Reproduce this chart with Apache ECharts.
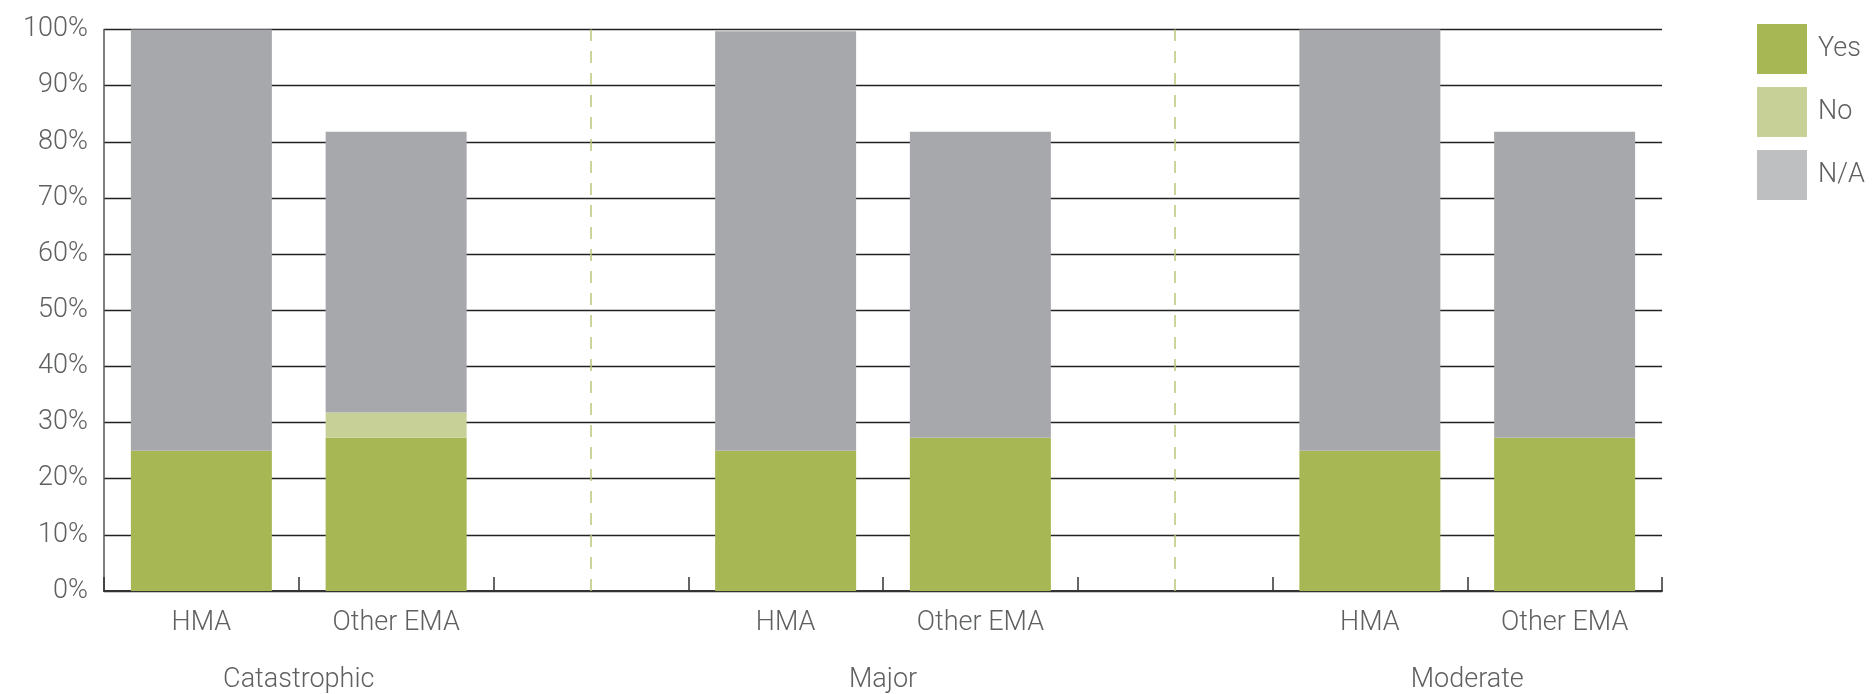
<!DOCTYPE html>
<html>
<head>
<meta charset="utf-8">
<script src="https://cdn.jsdelivr.net/npm/echarts@6/dist/echarts.min.js"></script>
<style>
  html, body { margin: 0; padding: 0; background: #ffffff; }
  #chart { width: 1875px; height: 694px; }
</style>
</head>
<body>
<div id="chart"></div>
<script>
// Slot labels along the x axis; the blank slots separate the three severity groups
const categories = ['HMA', 'Other EMA', '', 'HMA', 'Other EMA', '', 'HMA', 'Other EMA'];
// Share of responses (%) per slot
const yesValues = [25, 27.3, null, 25, 27.3, null, 25, 27.3];
const noValues  = [0, 4.5, null, 0, 0, null, 0, 0];
const naValues  = [75, 50, null, 74.7, 54.5, null, 75, 54.5];
// Group names and the slot boundary each one is centred on
const groupLabels = ['Catastrophic', 'Major', 'Moderate'];
const groupCentres = [1, 4, 7];
// Blank slots that hold the dashed separators
const separatorSlots = [2, 5];
const yTicks = [0, 10, 20, 30, 40, 50, 60, 70, 80, 90, 100];

const textColor = '#5f6062';
const fontFamily = 'Roboto, "Noto Sans", sans-serif';

const chart = echarts.init(document.getElementById('chart'));

chart.setOption({
  animation: false,
  backgroundColor: '#ffffff',
  textStyle: { fontFamily: fontFamily },
  grid: { left: 104, right: 213, top: 29.5, bottom: 102, containLabel: false },
  legend: {
    orient: 'vertical',
    left: 1752,
    top: 19,
    itemWidth: 50,
    itemHeight: 50,
    itemGap: 13,
    icon: 'rect',
    textStyle: { color: textColor, fontSize: 27, fontWeight: 300, fontFamily: fontFamily, padding: [0, 0, 0, 6] },
    data: [
      { name: 'Yes' },
      { name: 'No' },
      { name: 'N/A', itemStyle: { color: '#bebfc1' } }
    ]
  },
  xAxis: [
    {
      type: 'category',
      data: categories,
      boundaryGap: true,
      axisLine: { show: true, lineStyle: { color: '#333333', width: 2 } },
      axisTick: { show: true, inside: true, length: 14, interval: 0, lineStyle: { color: '#333333', width: 1.5 } },
      axisLabel: { color: textColor, fontSize: 27, fontWeight: 300, margin: 19, interval: 0 },
      splitLine: { show: false }
    },
    {
      type: 'value',
      position: 'bottom',
      min: 0,
      max: categories.length,
      interval: 1,
      axisLine: { show: false },
      axisTick: { show: false },
      splitLine: { show: false },
      axisLabel: {
        color: textColor,
        fontSize: 27,
        fontWeight: 300,
        margin: 76,
        showMinLabel: true,
        showMaxLabel: true,
        formatter: function (v) {
          const i = groupCentres.indexOf(Math.round(v));
          return i >= 0 ? groupLabels[i] : '';
        }
      }
    }
  ],
  yAxis: {
    type: 'value',
    min: 0,
    max: 100,
    interval: 10,
    axisLine: { show: true, lineStyle: { color: '#555555', width: 1.5 } },
    axisTick: { show: false },
    axisLabel: {
      color: textColor,
      fontSize: 27,
      fontWeight: 300,
      margin: 16,
      formatter: function (v) { return yTicks.indexOf(v) >= 0 ? v + '%' : ''; }
    },
    splitLine: { show: true, lineStyle: { color: '#222222', width: 1.3 } }
  },
  series: [
    {
      name: 'Yes',
      type: 'bar',
      stack: 'total',
      barWidth: '72.4%',
      itemStyle: { color: '#a6b753' },
      data: yesValues,
      markLine: {
        silent: true,
        symbol: 'none',
        label: { show: false },
        lineStyle: { color: '#b9c77a', type: [12, 10], width: 1.5 },
        data: separatorSlots.map(function (s) { return { xAxis: s }; })
      }
    },
    {
      name: 'No',
      type: 'bar',
      stack: 'total',
      barWidth: '72.4%',
      itemStyle: { color: '#c7d096' },
      data: noValues
    },
    {
      name: 'N/A',
      type: 'bar',
      stack: 'total',
      barWidth: '72.4%',
      itemStyle: { color: '#a7a8ab' },
      data: naValues
    }
  ]
});
</script>
</body>
</html>
